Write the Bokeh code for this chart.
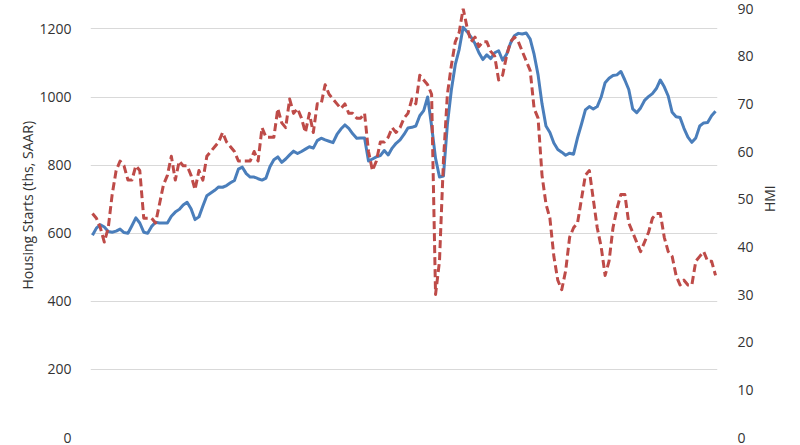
import math
from bokeh.plotting import figure
from bokeh.models import Range1d, LinearAxis, SingleIntervalTicker, FactorRange, Title
from bokeh.embed import file_html
from bokeh.resources import INLINE

years = list(range(2013, 2027))

# NAHB Housing Market Index (right axis)
hmi = [47, 46, 44, 41, 44, 51, 56, 58, 57, 54, 54, 57,
       56, 46, 46, 46, 45, 49, 53, 55, 59, 54, 58, 57,
       57, 55, 52, 56, 54, 59, 60, 61, 62, 64, 62, 61,
       60, 58, 58, 58, 58, 60, 58, 65, 63, 63, 63, 69,
       66, 65, 71, 68, 69, 67, 64, 68, 64, 70, 70, 74,
       72, 71, 70, 69, 70, 68, 68, 67, 67, 68, 60, 56,
       58, 62, 62, 63, 65, 64, 65, 67, 68, 71, 70, 76,
       75, 74, 72, 30, 37, 58, 72, 78, 83, 85, 90, 86,
       83, 84, 82, 83, 83, 81, 80, 75, 76, 80, 83, 84,
       83, 81, 79, 77, 69, 67, 55, 49, 46, 38, 33, 31,
       35, 42, 44, 45, 50, 55, 56, 50, 44, 40, 34, 37,
       44, 48, 51, 51, 45, 43, 41, 39, 41, 43, 46, 47,
       47, 42, 39, 38, 34, 32, 33, 32, 32, 37, 38, 39,
       37, 37, 34]

# Housing starts, ths SAAR (left axis)
starts = [594, 615, 625, 618, 605, 603, 606, 612, 602, 600, 622, 645,
          630, 603, 600, 620, 632, 630, 630, 630, 650, 662, 670, 683,
          691, 672, 640, 648, 680, 710, 718, 726, 736, 735, 740, 748,
          755, 788, 794, 775, 765, 765, 760, 756, 762, 795, 816, 824,
          808, 818, 830, 841, 834, 840, 847, 854, 850, 872, 879, 874,
          870, 866, 890, 906, 918, 908, 892, 879, 880, 880, 812, 818,
          824, 828, 843, 830, 850, 864, 874, 890, 909, 911, 915, 945,
          960, 1000, 915, 820, 765, 768, 920, 1020, 1095, 1140, 1205, 1192,
          1176, 1157, 1130, 1110, 1124, 1113, 1130, 1136, 1108, 1125, 1158, 1180,
          1187, 1185, 1188, 1170, 1125, 1065, 980, 915, 896, 865, 846, 838,
          829, 835, 832, 880, 920, 962, 972, 965, 972, 1000, 1042, 1055,
          1063, 1065, 1075, 1050, 1022, 965, 954, 968, 990, 1001, 1010, 1025,
          1050, 1030, 1003, 955, 942, 940, 908, 882, 867, 880, 915, 924,
          925, 945, 958]

months = [f"{y}-{m:02d}" for y in years for m in range(1, 13)][:len(hmi)]

FONT = "Open Sans"
TXT = "#333333"

p = figure(width=800, height=445,
           x_range=FactorRange(factors=months, range_padding=0),
           y_range=Range1d(0, 1260),
           x_axis_location=None,
           output_backend="svg", toolbar_location=None,
           min_border_left=90, min_border_right=83,
           min_border_top=8, min_border_bottom=8)
p.outline_line_color = None
p.extra_y_ranges = {"hmi": Range1d(0, 90)}

ax = p.yaxis[0]
ax.ticker = SingleIntervalTicker(interval=200)

rax = LinearAxis(y_range_name="hmi", ticker=SingleIntervalTicker(interval=10))
p.add_layout(rax, "right")

for a, st in ((ax, 15), (rax, 16)):
    a.axis_line_color = None
    a.major_tick_line_color = None
    a.minor_tick_line_color = None
    a.major_tick_out = 0
    a.major_tick_in = 0
    a.major_label_standoff = st
    a.major_label_text_font = FONT
    a.major_label_text_font_size = "14px"
    a.major_label_text_color = TXT

# right axis title, reading bottom-to-top like the reference
rax.axis_label = "\u00a0" * 3 + "HMI"
rax.axis_label_orientation = math.pi / 2
rax.axis_label_standoff = 13
rax.axis_label_text_font = FONT
rax.axis_label_text_font_size = "14px"
rax.axis_label_text_font_style = "normal"
rax.axis_label_text_color = TXT

# left axis title as a side title so it can be shifted along the axis
p.add_layout(Title(text="Housing Starts (ths, SAAR)", align="left", offset=148,
                   standoff=0, text_font=FONT, text_font_size="14px",
                   text_font_style="normal", text_color=TXT), "left")

p.ygrid.grid_line_color = "#d9d9d9"
p.ygrid.grid_line_width = 1
p.xgrid.visible = False

p.line(months, starts, line_color="#4a7ebb", line_width=3, line_join="round")
p.line(months, hmi, y_range_name="hmi", line_color="#be4b48", line_width=3,
       line_dash="8 4", line_join="round")

open("out.html", "w").write(file_html(p, INLINE))
